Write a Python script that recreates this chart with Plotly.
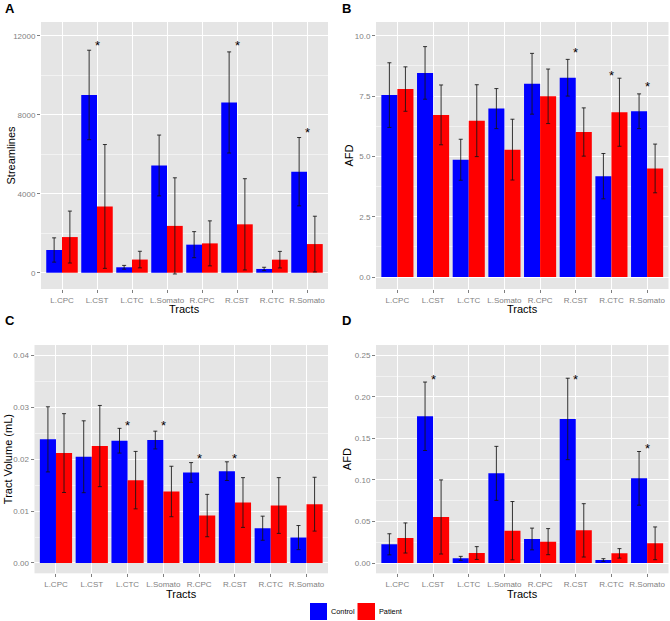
import plotly.graph_objects as go

tracts = ["L.CPC", "L.CST", "L.CTC", "L.Somato", "R.CPC", "R.CST", "R.CTC", "R.Somato"]
groups = ["Control", "Patient"]

# Panel A: Streamlines
a_control = [1150, 9000, 275, 5430, 1420, 8620, 190, 5115]
a_control_sd = [615, 2265, 95, 1540, 660, 2560, 85, 1730]
a_patient = [1805, 3355, 665, 2370, 1485, 2450, 660, 1450]
a_patient_sd = [1315, 3135, 420, 2435, 1140, 2310, 420, 1410]
a_star_tracts = ["L.CST", "R.CST", "R.Somato"]
a_star_y = [11640, 11650, 7240]

# Panel B: AFD
b_control = [7.54, 8.46, 4.86, 6.98, 8.01, 8.26, 4.18, 6.87]
b_control_sd = [1.34, 1.09, 0.85, 0.83, 1.26, 0.76, 0.94, 0.72]
b_patient = [7.79, 6.72, 6.48, 5.28, 7.49, 6.01, 6.83, 4.50]
b_patient_sd = [0.92, 1.24, 1.49, 1.26, 1.13, 1.00, 1.41, 1.01]
b_star_tracts = ["R.CST", "R.CTC", "R.Somato"]
b_star_y = [9.43, 8.47, 8.04]

# Panel C: Tract Volume (mL)
c_control = [0.0238, 0.02045, 0.02354, 0.02367, 0.01743, 0.01768, 0.00669, 0.00489]
c_control_sd = [0.00627, 0.00692, 0.00238, 0.00171, 0.00190, 0.00180, 0.00232, 0.00232]
c_patient = [0.02116, 0.02251, 0.01595, 0.01376, 0.00913, 0.01164, 0.01106, 0.01132]
c_patient_sd = [0.00759, 0.00782, 0.00553, 0.00486, 0.00408, 0.00479, 0.00537, 0.00518]
c_star_tracts = ["L.CTC", "L.Somato", "R.CPC", "R.CST"]
c_star_y = [0.0270, 0.0270, 0.0207, 0.0207]

# Panel D: AFD
d_control = [0.0225, 0.1766, 0.0056, 0.1079, 0.0289, 0.1734, 0.0036, 0.1019]
d_control_sd = [0.0127, 0.0412, 0.0024, 0.0325, 0.0131, 0.0490, 0.0016, 0.0323]
d_patient = [0.0301, 0.0554, 0.0120, 0.0389, 0.0257, 0.0393, 0.0116, 0.0237]
d_patient_sd = [0.0181, 0.0446, 0.0077, 0.0351, 0.0157, 0.0321, 0.0057, 0.0197]
d_star_tracts = ["L.CST", "R.CST", "R.Somato"]
d_star_y = [0.2243, 0.2239, 0.1412]

W, H = 670, 621
COLORS = {"Control": "#0000FF", "Patient": "#FF0000"}
PANEL_BG = "#E5E5E5"
TICK_COL = "#7F7F7F"
FONT = "Arial, Liberation Sans, sans-serif"


def fx(x):
    return x / W


def fy(y):
    return (H - y) / H


panels = [
    dict(key="", label="A", ytitle="Streamlines", vals=(a_control, a_patient), sds=(a_control_sd, a_patient_sd),
         stars=(a_star_tracts, a_star_y),
         xdom=(41, 328), ydom=(22, 289), yrange=[-825, 12694], dtick=4000, fmt="d",
         lab_xy=(3, 9), ytitle_x=10, xtitle_y=309),
    dict(key="2", label="B", ytitle="AFD", vals=(b_control, b_patient), sds=(b_control_sd, b_patient_sd),
         stars=(b_star_tracts, b_star_y),
         xdom=(376, 668.5), ydom=(22, 289), yrange=[-0.497, 10.57], dtick=2.5, fmt=".1f",
         lab_xy=(340, 9), ytitle_x=348, xtitle_y=309),
    dict(key="3", label="C", ytitle="Tract Volume (mL)", vals=(c_control, c_patient), sds=(c_control_sd, c_patient_sd),
         stars=(c_star_tracts, c_star_y),
         xdom=(34.5, 328), ydom=(345, 573.3), yrange=[-0.00199, 0.04197], dtick=0.01, fmt=".2f",
         lab_xy=(3, 320), ytitle_x=8, xtitle_y=594),
    dict(key="4", label="D", ytitle="AFD", vals=(d_control, d_patient), sds=(d_control_sd, d_patient_sd),
         stars=(d_star_tracts, d_star_y),
         xdom=(376, 668.5), ydom=(345, 573.3), yrange=[-0.0124, 0.2624], dtick=0.05, fmt=".2f",
         lab_xy=(340, 320), ytitle_x=347, xtitle_y=594),
]

fig = go.Figure()
annotations = []
shapes = []
layout_axes = {}

for i, p in enumerate(panels):
    k = p["key"]
    xa, ya = "x" + k, "y" + k
    err_style = dict(type="data", visible=True, color="rgba(20,20,20,0.85)", thickness=1, width=2)
    for g, v, s in zip(groups, p["vals"], p["sds"]):
        fig.add_trace(go.Bar(
            x=tracts, y=v, name=g, marker=dict(color=COLORS[g], line=dict(width=0)),
            error_y=dict(array=s, **err_style), xaxis=xa, yaxis=ya,
            offsetgroup=g, legendgroup=g, showlegend=False))

    x0, x1 = p["xdom"]
    y0, y1 = p["ydom"]
    layout_axes["xaxis" + k] = dict(
        domain=[fx(x0), min(1, fx(x1))], anchor=ya, type="category", categoryorder="array",
        categoryarray=tracts, range=[-0.6, 7.6], showgrid=True, gridcolor="white", gridwidth=1,
        ticks="outside", ticklen=3, tickcolor=TICK_COL, tickwidth=1,
        tickfont=dict(family=FONT, size=8, color=TICK_COL),
        showline=False, zeroline=False, fixedrange=True)
    layout_axes["yaxis" + k] = dict(
        domain=[fy(y1), fy(y0)], anchor=xa, range=p["yrange"], dtick=p["dtick"], tick0=0,
        tickformat=p["fmt"], showgrid=True, gridcolor="white", gridwidth=1,
        minor=dict(dtick=p["dtick"] / 2, tick0=0, showgrid=True, gridcolor="#F2F2F2", gridwidth=0.5),
        ticks="outside", ticklen=3, tickcolor=TICK_COL, tickwidth=1,
        tickfont=dict(family=FONT, size=8, color=TICK_COL),
        showline=False, zeroline=False, fixedrange=True)

    # significance stars
    for t, yv in zip(*p["stars"]):
        annotations.append(dict(x=t, y=yv, xref=xa, yref=ya, text="*", showarrow=False,
                                font=dict(family=FONT, size=13, color="black"),
                                yanchor="middle", yshift=-3))
    # panel letter
    lx, ly = p["lab_xy"]
    annotations.append(dict(x=fx(lx), y=fy(ly), xref="paper", yref="paper",
                            text="<b>%s</b>" % p["label"], showarrow=False, xanchor="left", yanchor="middle",
                            font=dict(family=FONT, size=13, color="black")))
    # y title
    annotations.append(dict(x=fx(p["ytitle_x"]), y=fy((y0 + y1) / 2), xref="paper", yref="paper",
                            text=p["ytitle"], textangle=-90, showarrow=False, xanchor="center", yanchor="middle",
                            font=dict(family=FONT, size=11, color="black")))
    # x title
    annotations.append(dict(x=fx((x0 + x1) / 2), y=fy(p["xtitle_y"]), xref="paper", yref="paper",
                            text="Tracts", showarrow=False, xanchor="center", yanchor="middle",
                            font=dict(family=FONT, size=11, color="black")))

# legend (ggplot-style keys below the panels)
legend_keys = {"Control": (310, 327), "Patient": (357.5, 375)}
for g in groups:
    kx0, kx1 = legend_keys[g]
    shapes.append(dict(type="rect", xref="paper", yref="paper", x0=fx(kx0), x1=fx(kx1),
                       y0=fy(620), y1=fy(603), fillcolor=COLORS[g], line=dict(width=0)))
    annotations.append(dict(x=fx(kx1 + 2), y=fy(611.5), xref="paper", yref="paper", text=g,
                            showarrow=False, xanchor="left", yanchor="middle",
                            font=dict(family=FONT, size=7.3, color="black")))

fig.update_layout(
    width=W, height=H, margin=dict(l=0, r=0, t=0, b=0),
    paper_bgcolor="white", plot_bgcolor=PANEL_BG,
    barmode="group", bargap=0.1, bargroupgap=0,
    showlegend=False,
    annotations=annotations, shapes=shapes,
    **layout_axes,
)

fig.write_html("out.html", config={"displayModeBar": False},
               post_script="document.body.style.margin='0';document.body.style.overflow='hidden';")
